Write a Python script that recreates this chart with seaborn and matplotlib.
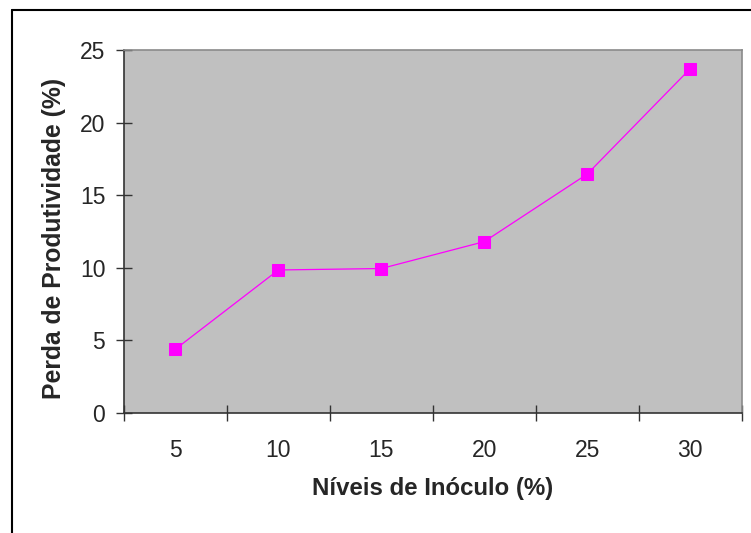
import matplotlib
matplotlib.use("Agg")
import matplotlib.pyplot as plt
from matplotlib.lines import Line2D
from matplotlib.ticker import FixedLocator
import seaborn as sns
import pandas as pd

# dados
niveis = [5, 10, 15, 20, 25, 30]
perda = [4.4, 9.85, 9.95, 11.8, 16.45, 23.7]
y_ticks = [0, 5, 10, 15, 20, 25]

sns.set_style("ticks")
plt.rcParams['font.family'] = ['Liberation Sans', 'DejaVu Sans']

df = pd.DataFrame({'Nivel': [str(n) for n in niveis], 'Perda': perda})

fig = plt.figure(figsize=(7.51, 5.33), dpi=100)
ax = fig.add_axes([124 / 751, 1 - 413 / 533, 617.5 / 751, 363 / 533])
ax.set_facecolor('#C0C0C0')

sns.lineplot(data=df, x='Nivel', y='Perda', ax=ax, color='#FF00FF', linewidth=0.9,
             marker='s', markersize=9.2, markerfacecolor='#FF00FF',
             markeredgecolor='#FF00FF', sort=False)

ax.set_xlim(-0.5, len(niveis) - 0.5)
ax.set_ylim(0, 25)
ax.set_yticks(y_ticks)
ax.set_yticklabels([str(t) for t in y_ticks], fontsize=16.5)

# rótulos no centro das categorias, marcas nos limites
ax.set_xticks(range(len(niveis)))
ax.set_xticklabels([str(n) for n in niveis], fontsize=16.5)
ax.tick_params(axis='x', which='major', length=0, pad=19)
ax.xaxis.set_minor_locator(FixedLocator([i - 0.5 for i in range(len(niveis) + 1)]))
ax.tick_params(axis='x', which='minor', direction='inout', length=11, width=1, color='#333333')
ax.tick_params(axis='y', direction='inout', length=11, width=1, color='#333333', pad=8)

for s in ['left', 'bottom']:
    ax.spines[s].set_color('#333333')
    ax.spines[s].set_linewidth(1.2)
for s in ['top', 'right']:
    ax.spines[s].set_color('#8A8A8A')
    ax.spines[s].set_linewidth(1.2)

ax.set_xlabel('Níveis de Inóculo (%)', fontsize=17.3, fontweight='bold')
ax.set_ylabel('Perda de Produtividade (%)', fontsize=17.8, fontweight='bold')
ax.xaxis.set_label_coords(0.5, -0.176)
ax.yaxis.set_label_coords(-0.094, 0.482)

# moldura da área do gráfico (cortada à direita e embaixo)
fig.add_artist(Line2D([11.5 / 751, 1.01], [1 - 10.3 / 533] * 2, transform=fig.transFigure,
                      color='black', linewidth=1.5))
fig.add_artist(Line2D([11.5 / 751] * 2, [1 - 10.3 / 533, -0.01], transform=fig.transFigure,
                      color='black', linewidth=1.5))

fig.savefig('out.png', dpi=100)
